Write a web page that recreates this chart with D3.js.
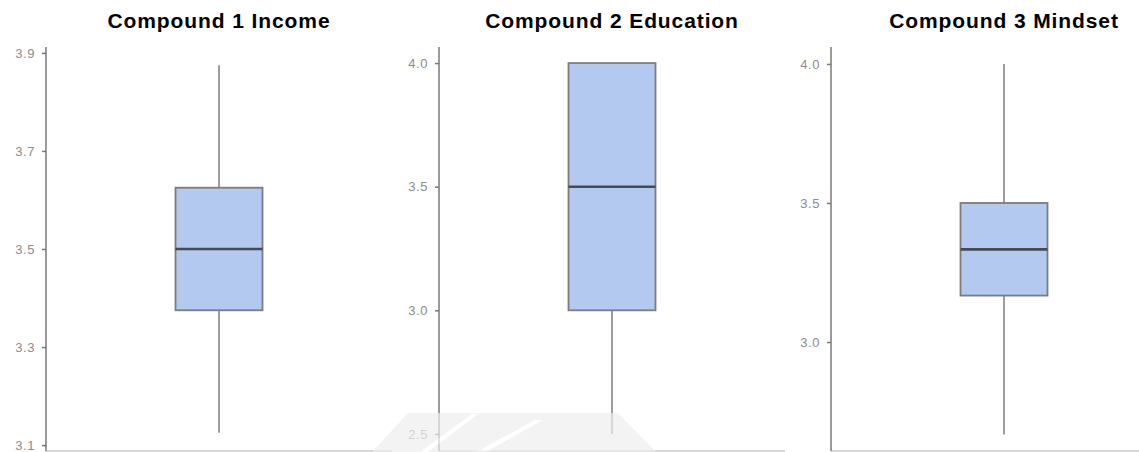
<!DOCTYPE html>
<html>
<head>
<meta charset="utf-8">
<script src="https://cdn.jsdelivr.net/npm/d3@7"></script>
<style>
  html, body { margin: 0; padding: 0; background: #fff; }
  svg { display: block; }
</style>
</head>
<body>
<svg id="chart" width="1139" height="452"></svg>
<script>
// Compound scores: one box plot per compound
const titles = ["Compound 1 Income", "Compound 2 Education", "Compound 3 Mindset"];
const whiskerLow  = [3.125, 2.5, 2.667];
const quartile1   = [3.375, 3.0, 3.167];
const medians     = [3.5,   3.5, 3.333];
const quartile3   = [3.625, 4.0, 3.5];
const whiskerHigh = [3.875, 4.0, 4.0];

// Axis extents and tick labels for each panel
const axisMin = [3.088, 2.431, 2.608];
const axisMax = [3.912, 4.065, 4.061];
const tickValues = [
  [3.1, 3.3, 3.5, 3.7, 3.9],
  [2.5, 3.0, 3.5, 4.0],
  [3.0, 3.5, 4.0]
];

const svg = d3.select("#chart");
const panelLeft = [46, 439, 831];
const panelWidth = 346;
const plotTop = 47, plotBottom = 451;
const boxWidth = 87;

titles.forEach((title, i) => {
  const g = svg.append("g").attr("transform", `translate(${panelLeft[i]},0)`);
  const y = d3.scaleLinear().domain([axisMin[i], axisMax[i]]).range([plotBottom, plotTop]);
  const x = d3.scaleBand().domain([title]).range([0, panelWidth]);
  const cx = x(title) + x.bandwidth() / 2;

  // bottom axis line
  g.append("line")
    .attr("x1", 0).attr("x2", panelWidth)
    .attr("y1", plotBottom).attr("y2", plotBottom)
    .attr("stroke", "#c8c8c8").attr("stroke-width", 1.5);

  // left axis
  const axis = d3.axisLeft(y).tickValues(tickValues[i]).tickFormat(d3.format(".1f")).tickSize(4).tickPadding(7);
  const ag = g.append("g").call(axis);
  ag.select(".domain").attr("stroke", "#9a9a9a").attr("stroke-width", 2).attr("d", `M0,${plotTop}V${plotBottom}`);
  ag.selectAll(".tick line").attr("stroke", "#777").attr("stroke-width", 1.5);
  ag.selectAll(".tick text")
    .attr("fill", "#8c8c8c")
    .style("font-family", "'Liberation Sans', Arial, sans-serif")
    .style("font-size", "13px")
    .style("letter-spacing", "0.6px");

  // whisker
  g.append("line")
    .attr("x1", cx).attr("x2", cx)
    .attr("y1", y(whiskerLow[i])).attr("y2", y(whiskerHigh[i]))
    .attr("stroke", "#939393").attr("stroke-width", 1.8);

  // box
  g.append("rect")
    .attr("x", cx - boxWidth / 2)
    .attr("y", y(quartile3[i]))
    .attr("width", boxWidth)
    .attr("height", y(quartile1[i]) - y(quartile3[i]))
    .attr("fill", "#b4c9ef")
    .attr("stroke", "#7c7c7c").attr("stroke-width", 1.8);

  // median
  g.append("line")
    .attr("x1", cx - boxWidth / 2).attr("x2", cx + boxWidth / 2)
    .attr("y1", y(medians[i])).attr("y2", y(medians[i]))
    .attr("stroke", "#454a55").attr("stroke-width", 2.6);

  // title
  svg.append("text")
    .attr("x", panelLeft[i] + cx)
    .attr("y", 28)
    .attr("text-anchor", "middle")
    .style("font-family", "'Liberation Sans', Arial, Helvetica, sans-serif")
    .style("font-weight", "bold")
    .style("font-size", "21px")
    .style("letter-spacing", "0.9px")
    .attr("fill", "#000")
    .text(title);
});

// faint translucent shape across the lower edge
const shade = svg.append("g").attr("opacity", 0.7);
shade.append("path")
  .attr("d", "M408,413 L618,413 L656,452 L372,452 Z")
  .attr("fill", "#efefef");
shade.append("path")
  .attr("d", "M472,414 L478,414 L428,452 L420,452 Z")
  .attr("fill", "#ffffff");
shade.append("path")
  .attr("d", "M535,420 L543,420 L486,452 L476,452 Z")
  .attr("fill", "#ffffff");
</script>
</body>
</html>
